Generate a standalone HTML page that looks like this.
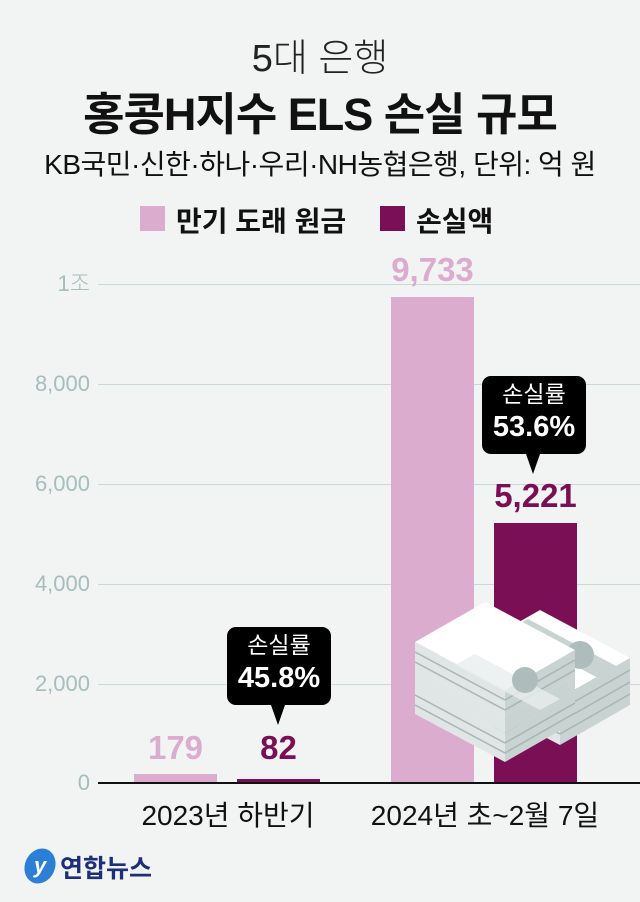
<!DOCTYPE html>
<html><head><meta charset="utf-8"><style>
body{margin:0;width:640px;height:902px;background:#f2f4f3;font-family:"Liberation Sans","Noto Sans CJK KR",sans-serif;position:relative;overflow:hidden}
.a{position:absolute;white-space:nowrap}
.c{text-align:center}
.grid{position:absolute;left:98px;width:542px;height:1px;background:#c9d8d8}
.yl{position:absolute;right:550px;font-size:22px;color:#a7bcbd;font-weight:300;line-height:22px}
.tip{position:absolute;background:#000;color:#fff;border-radius:9px;text-align:center;width:104px;height:78px}
.tip .t1{font-size:23px;margin-top:5px;line-height:27px}
.tip .t2{font-size:29px;font-weight:bold;line-height:38px}
.tip:after{content:"";position:absolute;left:44px;bottom:-20px;border-left:7px solid transparent;border-right:7px solid transparent;border-top:20px solid #000}
</style></head><body>
<div class="a c" style="left:0;width:640px;top:27px;font-size:38px;font-weight:300;color:#222">5대 은행</div>
<div class="a c" style="left:0;width:640px;top:78px;font-size:45px;font-weight:bold;color:#111;letter-spacing:-1px">홍콩H지수 ELS 손실 규모</div>
<div class="a c" style="left:0;width:640px;top:143px;font-size:28px;color:#111;letter-spacing:-0.5px">KB국민·신한·하나·우리·NH농협은행, 단위: 억 원</div>
<div class="a" style="left:140px;top:206px;width:25px;height:25px;background:#dcaccf"></div>
<div class="a" style="left:176px;top:200px;font-size:28px;font-weight:bold;color:#111">만기 도래 원금</div>
<div class="a" style="left:380px;top:206px;width:25px;height:25px;background:#7b0f56"></div>
<div class="a" style="left:416px;top:200px;font-size:28px;font-weight:bold;color:#111">손실액</div>

<div class="grid" style="top:284px"></div><div class="grid" style="top:384px"></div><div class="grid" style="top:484px"></div><div class="grid" style="top:584px"></div><div class="grid" style="top:684px"></div>
<div class="yl" style="top:273px">1조</div>
<div class="yl" style="top:373px">8,000</div>
<div class="yl" style="top:473px">6,000</div>
<div class="yl" style="top:573px">4,000</div>
<div class="yl" style="top:673px">2,000</div>
<div class="yl" style="top:772px">0</div>

<div class="a" style="left:134px;top:774px;width:83px;height:9px;background:#dcaccf"></div>
<div class="a" style="left:237px;top:779px;width:83px;height:4px;background:#7b0f56"></div>
<div class="a" style="left:391px;top:297px;width:83px;height:486px;background:#dcaccf"></div>
<div class="a" style="left:494px;top:523px;width:83px;height:260px;background:#7b0f56"></div>
<div class="a" style="left:98px;top:782px;width:542px;height:2px;background:#111"></div>

<div class="a c" style="left:124px;width:103px;top:729px;font-size:33px;font-weight:bold;color:#dcaccf">179</div>
<div class="a c" style="left:227px;width:103px;top:729px;font-size:33px;font-weight:bold;color:#7b0f56">82</div>
<div class="a c" style="left:381px;width:103px;top:251px;font-size:33px;font-weight:bold;color:#dcaccf">9,733</div>
<div class="a c" style="left:484px;width:103px;top:477px;font-size:33px;font-weight:bold;color:#7b0f56">5,221</div>

<div class="tip" style="left:227px;top:627px"><div class="t1">손실률</div><div class="t2">45.8%</div></div>
<div class="tip" style="left:482px;top:376px"><div class="t1">손실률</div><div class="t2">53.6%</div></div>

<svg class="a" style="left:410px;top:590px" width="230" height="180" viewBox="0 0 230 180">
 <g>
  <polygon points="60,60 130,20 220,68 150,108" fill="#fff"/>
  <polygon points="60,60 150,108 150,155 60,108" fill="#dfe6e5"/>
  <polygon points="150,108 220,68 220,115 150,155" fill="#c8d3d2"/>
  <g stroke="#a7b5b4" stroke-width="1.5"><line x1="60" y1="72" x2="150" y2="120"/><line x1="60" y1="84" x2="150" y2="132"/><line x1="60" y1="96" x2="150" y2="144"/><line x1="150" y1="120" x2="220" y2="80"/><line x1="150" y1="132" x2="220" y2="92"/><line x1="150" y1="144" x2="220" y2="104"/></g>
  <polygon points="98,40 118,29 208,77 188,88" fill="#c8d3d2"/>
  <circle cx="170" cy="65" r="14" fill="#aebdbc"/>
 </g>
 <g>
  <polygon points="5,95 75,55 165,103 95,143" fill="#fff"/>
  <polygon points="5,95 95,143 95,172 5,124" fill="#dfe6e5"/>
  <polygon points="95,143 165,103 165,132 95,172" fill="#c8d3d2"/>
  <polygon points="5,78 75,38 165,86 95,126" fill="#fff"/>
  <polygon points="5,78 95,126 95,143 5,95" fill="#dfe6e5"/>
  <polygon points="95,126 165,86 165,103 95,143" fill="#c8d3d2"/>
  <polygon points="5,52 75,12 165,60 95,100" fill="#fff"/>
  <polygon points="5,52 95,100 95,126 5,78" fill="#dfe6e5"/>
  <polygon points="95,100 165,60 165,86 95,126" fill="#c8d3d2"/>
  <g stroke="#a7b5b4" stroke-width="1.5"><line x1="5" y1="62" x2="95" y2="110"/><line x1="5" y1="72" x2="95" y2="120"/><line x1="5" y1="105" x2="95" y2="153"/><line x1="5" y1="115" x2="95" y2="163"/><line x1="95" y1="110" x2="165" y2="70"/><line x1="95" y1="120" x2="165" y2="80"/><line x1="95" y1="153" x2="165" y2="113"/><line x1="95" y1="163" x2="165" y2="123"/></g>
  <polygon points="45,75 65,64 150,109 130,120" fill="#e8eeed" opacity=".8"/>
  <circle cx="115" cy="90" r="13" fill="#aebdbc"/>
 </g>
</svg>

<div class="a c" style="left:98px;width:260px;top:794px;font-size:28px;color:#111">2023년 하반기</div>
<div class="a c" style="left:355px;width:260px;top:794px;font-size:28px;color:#111">2024년 초~2월 7일</div>

<div class="a" style="left:25px;top:848px;width:30px;height:36px;border-radius:50%;background:#2b7fd6;transform:rotate(25deg)"></div>
<div class="a" style="left:34px;top:853px;font-size:22px;font-style:italic;font-weight:bold;color:#fff">y</div>
<div class="a" style="left:60px;top:849px;font-size:25px;font-weight:bold;color:#1d2f7a">연합뉴스</div>
</body></html>
